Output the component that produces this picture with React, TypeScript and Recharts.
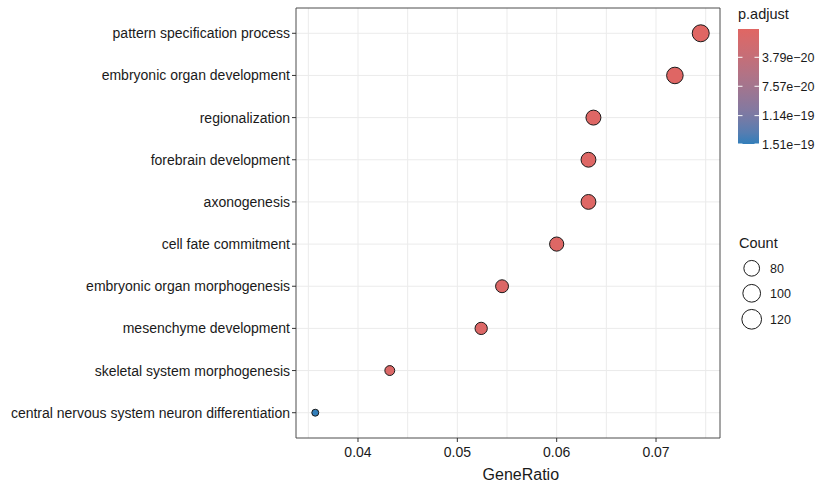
import React from "react";
import {
  ScatterChart,
  Scatter,
  XAxis,
  YAxis,
  ZAxis,
  CartesianGrid,
  ReferenceArea,
  Cell,
} from "recharts";

// GO terms, listed top to bottom
const terms = [
  "pattern specification process",
  "embryonic organ development",
  "regionalization",
  "forebrain development",
  "axonogenesis",
  "cell fate commitment",
  "embryonic organ morphogenesis",
  "mesenchyme development",
  "skeletal system morphogenesis",
  "central nervous system neuron differentiation",
];
const geneRatio = [0.0745, 0.0719, 0.0637, 0.0632, 0.0632, 0.06, 0.0545, 0.0524, 0.0432, 0.0357];
const counts = [120, 116, 103, 102, 102, 97, 88, 84, 70, 57];
const pAdjust = [1.0e-21, 2.1e-21, 3.6e-21, 4.2e-21, 3.9e-21, 5.1e-21, 6.3e-21, 6.8e-21, 7.5e-21, 1.51e-19];

const xTicks = [0.04, 0.05, 0.06, 0.07];
const xGridValues = [0.035, 0.04, 0.045, 0.05, 0.055, 0.06, 0.065, 0.07, 0.075];
const pBreaks = [3.79e-20, 7.57e-20, 1.14e-19, 1.51e-19];
const pBreakLabels = ["3.79e\u221220", "7.57e\u221220", "1.14e\u221219", "1.51e\u221219"];
const countBreaks = [80, 100, 120];

const LOW_COLOR = "#e06663";
const HIGH_COLOR = "#327eba";
const FONT = "'Liberation Sans', Arial, Helvetica, sans-serif";

// --- colour interpolation in CIE Lab ---
type Vec3 = [number, number, number];
const hexToRgb = (h: string): Vec3 => [
  parseInt(h.slice(1, 3), 16),
  parseInt(h.slice(3, 5), 16),
  parseInt(h.slice(5, 7), 16),
];
const toLin = (c: number) => {
  const v = c / 255;
  return v <= 0.04045 ? v / 12.92 : Math.pow((v + 0.055) / 1.055, 2.4);
};
const fromLin = (v: number) => {
  const c = v <= 0.0031308 ? v * 12.92 : 1.055 * Math.pow(v, 1 / 2.4) - 0.055;
  return Math.max(0, Math.min(255, Math.round(c * 255)));
};
const Xn = 0.95047, Yn = 1.0, Zn = 1.08883;
const f = (t: number) => (t > 216 / 24389 ? Math.cbrt(t) : (24389 / 27 * t + 16) / 116);
const finv = (t: number) => (t * t * t > 216 / 24389 ? t * t * t : (116 * t - 16) / (24389 / 27));
const rgbToLab = ([r, g, b]: Vec3): Vec3 => {
  const R = toLin(r), G = toLin(g), B = toLin(b);
  const X = 0.4124564 * R + 0.3575761 * G + 0.1804375 * B;
  const Y = 0.2126729 * R + 0.7151522 * G + 0.072175 * B;
  const Z = 0.0193339 * R + 0.119192 * G + 0.9503041 * B;
  const fx = f(X / Xn), fy = f(Y / Yn), fz = f(Z / Zn);
  return [116 * fy - 16, 500 * (fx - fy), 200 * (fy - fz)];
};
const labToHex = ([L, a, b]: Vec3): string => {
  const fy = (L + 16) / 116;
  const fx = fy + a / 500;
  const fz = fy - b / 200;
  const X = finv(fx) * Xn, Y = finv(fy) * Yn, Z = finv(fz) * Zn;
  const R = 3.2404542 * X - 1.5371385 * Y - 0.4985314 * Z;
  const G = -0.969266 * X + 1.8760108 * Y + 0.041556 * Z;
  const B = 0.0556434 * X - 0.2040259 * Y + 1.0572252 * Z;
  return "#" + [R, G, B].map((v) => fromLin(v).toString(16).padStart(2, "0")).join("");
};
const labLow = rgbToLab(hexToRgb(LOW_COLOR));
const labHigh = rgbToLab(hexToRgb(HIGH_COLOR));
const mixColor = (t: number) =>
  labToHex([0, 1, 2].map((i) => labLow[i] + (labHigh[i] - labLow[i]) * t) as Vec3);

const pMin = Math.min(...pAdjust);
const pMax = Math.max(...pAdjust);
const colorFor = (p: number) => mixColor((p - pMin) / (pMax - pMin));

// ggplot-style 5% expansion of the x range
const xMin = Math.min(...geneRatio);
const xMax = Math.max(...geneRatio);
const xPad = (xMax - xMin) * 0.05;
const xDomain: [number, number] = [xMin - xPad, xMax + xPad];
const nTerms = terms.length;
const yDomain: [number, number] = [0.4, nTerms + 0.6];

const data = terms.map((term, i) => ({
  term,
  ratio: geneRatio[i],
  pos: nTerms - i,
  count: counts[i],
  p: pAdjust[i],
}));

// chart geometry
const W = 823;
const H = 485;
const MARGIN = { top: 8, right: 103, bottom: 0, left: 0 };
const Y_AXIS_W = 296;
const X_AXIS_H = 47;

// colourbar geometry
const BAR_X = 738;
const BAR_Y = 29;
const BAR_W = 21;
const BAR_H = 115;
const barY = (p: number) => BAR_Y + ((p - pMin) / (pMax - pMin)) * BAR_H;

// size key radius
const keyRadius = (v: number) => 3.85 + v * 0.05;
const keyRowY = [268.3, 293.3, 319.3];

const gradientStops = Array.from({ length: 11 }, (_, i) => i / 10);

export default function App() {
  return (
    <div style={{ position: "absolute", left: 0, top: 0, width: W, height: H, background: "#fff" }}>
      <ScatterChart width={W} height={H} margin={MARGIN}>
        <CartesianGrid
          stroke="#EBEBEB"
          strokeWidth={1}
          verticalValues={xGridValues}
          horizontalValues={data.map((d) => d.pos)}
        />
        <XAxis
          type="number"
          dataKey="ratio"
          domain={xDomain}
          allowDataOverflow
          ticks={xTicks}
          tickFormatter={(v: number) => v.toFixed(2)}
          height={X_AXIS_H}
          axisLine={false}
          tickSize={4}
          tickMargin={5}
          tickLine={{ stroke: "#333" }}
          tick={{ fontSize: 14, fill: "#1a1a1a", fontFamily: FONT }}
        />
        <YAxis
          type="number"
          dataKey="pos"
          domain={yDomain}
          allowDataOverflow
          ticks={data.map((d) => d.pos)}
          interval={0}
          tickFormatter={(v: number) => terms[nTerms - v] ?? ""}
          width={Y_AXIS_W}
          axisLine={false}
          tickSize={4}
          tickMargin={2}
          tickLine={{ stroke: "#333" }}
          tick={{ fontSize: 14, fill: "#1a1a1a", fontFamily: FONT }}
        />
        <ZAxis
          type="number"
          dataKey="count"
          domain={[Math.min(...counts), Math.max(...counts)]}
          range={[38, 227]}
        />
        <ReferenceArea
          x1={xDomain[0]}
          x2={xDomain[1]}
          y1={yDomain[0]}
          y2={yDomain[1]}
          fill="none"
          fillOpacity={0}
          stroke="#4d4d4d"
          strokeWidth={1}
          ifOverflow="visible"
        />
        <Scatter data={data} shape="circle" stroke="#1a1a1a" strokeWidth={1} isAnimationActive={false}>
          {data.map((d) => (
            <Cell key={d.term} fill={colorFor(d.p)} />
          ))}
        </Scatter>
      </ScatterChart>

      <svg
        width={W}
        height={H}
        style={{ position: "absolute", left: 0, top: 0, pointerEvents: "none" }}
        fontFamily={FONT}
      >
        <defs>
          <linearGradient id="padjGrad" x1="0" y1="0" x2="0" y2="1">
            {gradientStops.map((t) => (
              <stop key={t} offset={`${t * 100}%`} stopColor={mixColor(t)} />
            ))}
          </linearGradient>
        </defs>

        {/* x axis title */}
        <text x={520.8} y={479.5} fontSize={16} fill="#1a1a1a" textAnchor="middle">
          GeneRatio
        </text>

        {/* p.adjust colourbar */}
        <text x={738} y={19} fontSize={14.5} fill="#1a1a1a">
          p.adjust
        </text>
        <rect x={BAR_X} y={BAR_Y} width={BAR_W} height={BAR_H} fill="url(#padjGrad)" />
        {pBreaks.map((b, i) => {
          const y = barY(b);
          return (
            <g key={b}>
              <line x1={BAR_X} x2={BAR_X + 4.5} y1={y} y2={y} stroke="#fff" strokeWidth={1} />
              <line x1={BAR_X + BAR_W - 4.5} x2={BAR_X + BAR_W} y1={y} y2={y} stroke="#fff" strokeWidth={1} />
              <text x={762} y={y + 4.5} fontSize={12.5} fill="#1a1a1a">
                {pBreakLabels[i]}
              </text>
            </g>
          );
        })}

        {/* Count size key */}
        <text x={739} y={247.8} fontSize={14.5} fill="#1a1a1a">
          Count
        </text>
        {countBreaks.map((c, i) => (
          <g key={c}>
            <circle cx={751.7} cy={keyRowY[i]} r={keyRadius(c)} fill="#fff" stroke="#1a1a1a" strokeWidth={1} />
            <text x={770} y={keyRowY[i] + 4.5} fontSize={12.5} fill="#1a1a1a">
              {c}
            </text>
          </g>
        ))}
      </svg>
    </div>
  );
}
